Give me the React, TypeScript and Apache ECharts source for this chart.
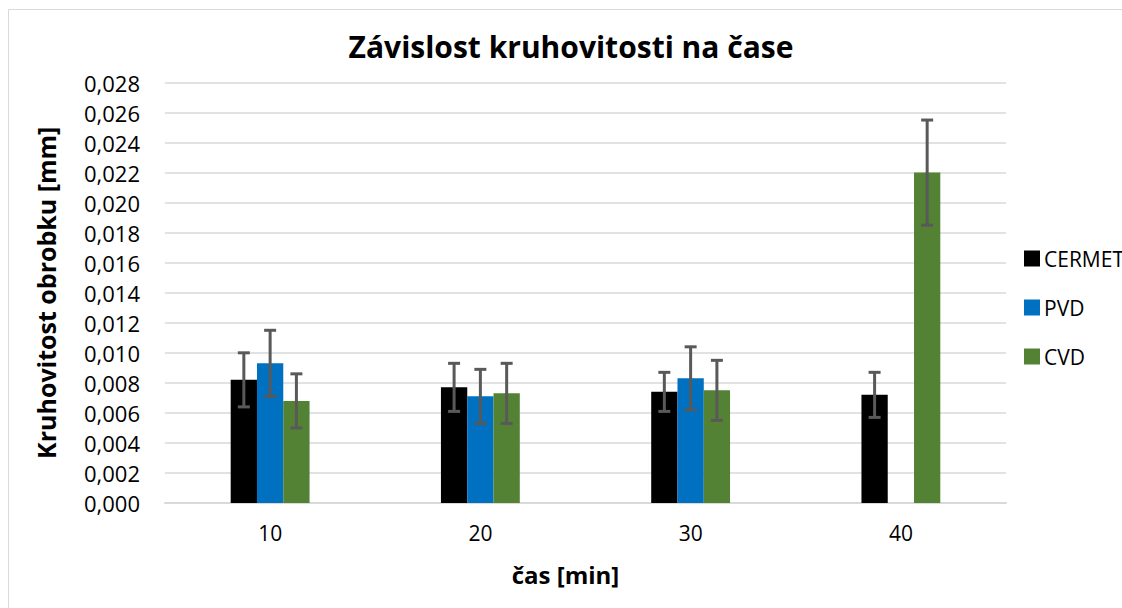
import React, { useEffect, useRef } from "react";
import * as echarts from "echarts";

const categories = ["10", "20", "30", "40"];
const seriesNames = ["CERMET", "PVD", "CVD"];
const cermetValues = [0.0082, 0.0077, 0.0074, 0.0072];
const cermetErrors = [0.0018, 0.0016, 0.0013, 0.0015];
const pvdValues = [0.0093, 0.0071, 0.0083, null];
const pvdErrors = [0.0022, 0.0018, 0.0021, null];
const cvdValues = [0.0068, 0.0073, 0.0075, 0.022];
const cvdErrors = [0.0018, 0.002, 0.002, 0.0035];
const titleText = "Závislost kruhovitosti na čase";

const colors = ["#000000", "#0070C0", "#548235"];
const FONT = "'Open Sans', 'Noto Sans', sans-serif";
const BAR_FRAC = 0.125;

function errData(vals: (number | null)[], errs: (number | null)[]) {
  const out: number[][] = [];
  vals.forEach((v, i) => {
    if (v != null && errs[i] != null) out.push([i, v, errs[i] as number]);
  });
  return out;
}

function makeRender(idx: number) {
  return (params: any, api: any) => {
    const cat = api.value(0);
    const v = api.value(1);
    const e = api.value(2);
    const catW = api.size([1, 0])[0];
    const dx = (idx - 1) * catW * BAR_FRAC;
    const top = api.coord([cat, v + e]);
    const bot = api.coord([cat, v - e]);
    const x = top[0] + dx;
    const half = 6;
    const style = { stroke: "#595959", lineWidth: 3 };
    return {
      type: "group",
      children: [
        { type: "line", shape: { x1: x, y1: top[1], x2: x, y2: bot[1] }, style },
        { type: "line", shape: { x1: x - half, y1: top[1], x2: x + half, y2: top[1] }, style },
        { type: "line", shape: { x1: x - half, y1: bot[1], x2: x + half, y2: bot[1] }, style },
      ],
    };
  };
}

export default function App() {
  const ref = useRef<HTMLDivElement>(null);
  useEffect(() => {
    if (!ref.current) return;
    const chart = echarts.init(ref.current, null, { renderer: "svg" });
    const valuesList = [cermetValues, pvdValues, cvdValues];
    const errorsList = [cermetErrors, pvdErrors, cvdErrors];
    const bars = seriesNames.map((name, i) => ({
      name,
      type: "bar",
      data: valuesList[i],
      barWidth: BAR_FRAC * 100 + "%",
      barGap: "0%",
      itemStyle: { color: colors[i] },
      z: 2,
    }));
    const errs = seriesNames.map((name, i) => ({
      name: name + " err",
      type: "custom",
      renderItem: makeRender(i),
      data: errData(valuesList[i], errorsList[i]),
      encode: { x: 0, y: 1 },
      z: 5,
      silent: true,
    }));
    chart.setOption({
      animation: false,
      backgroundColor: "#ffffff",
      legend: {
        data: seriesNames,
        orient: "vertical",
        left: 1024,
        top: 248,
        padding: 0,
        itemWidth: 16,
        itemHeight: 16,
        itemGap: 28,
        icon: "rect",
        textStyle: { fontFamily: FONT, fontSize: 21, color: "#000", padding: [0, 0, 0, -1] },
      },
      grid: { left: 165, right: 116, top: 82.5, bottom: 105 },
      xAxis: {
        type: "category",
        data: categories,
        name: "čas [min]",
        nameLocation: "middle",
        nameGap: 59,
        nameTextStyle: {
          fontFamily: FONT,
          fontSize: 24,
          fontWeight: "bold",
          color: "#000",
          padding: [0, 40, 0, 0],
        },
        axisLine: { lineStyle: { color: "#d9d9d9", width: 2 } },
        axisTick: { show: false },
        axisLabel: { fontFamily: FONT, fontSize: 21, color: "#000", margin: 19 },
      },
      yAxis: {
        type: "value",
        min: 0,
        max: 0.028,
        interval: 0.002,
        name: "Kruhovitost obrobku [mm]",
        nameLocation: "middle",
        nameGap: 107,
        nameRotate: 90,
        nameTextStyle: { fontFamily: FONT, fontSize: 25, fontWeight: "bold", color: "#000" },
        axisLine: { show: false },
        axisTick: { show: false },
        splitLine: { lineStyle: { color: "#d9d9d9", width: 1.5 } },
        axisLabel: {
          fontFamily: FONT,
          fontSize: 22,
          color: "#000",
          margin: 25,
          formatter: (v: number) => v.toFixed(3).replace(".", ","),
        },
      },
      graphic: [
        {
          type: "rect",
          shape: { x: 8.5, y: 9.5, width: 1300, height: 800 },
          style: { fill: "none", stroke: "#d9d9d9", lineWidth: 1 },
          silent: true,
          z: -1,
        },
        {
          type: "text",
          x: 571,
          y: 46,
          style: {
            text: titleText,
            fill: "#000",
            font: "bold 30px " + FONT,
            textAlign: "center",
            textVerticalAlign: "middle",
          },
          z: 10,
        },
      ],
      series: [...bars, ...errs],
    });
    return () => chart.dispose();
  }, []);
  return (
    <div
      ref={ref}
      style={{ position: "fixed", left: 0, top: 0, width: 1122, height: 608 }}
    />
  );
}
